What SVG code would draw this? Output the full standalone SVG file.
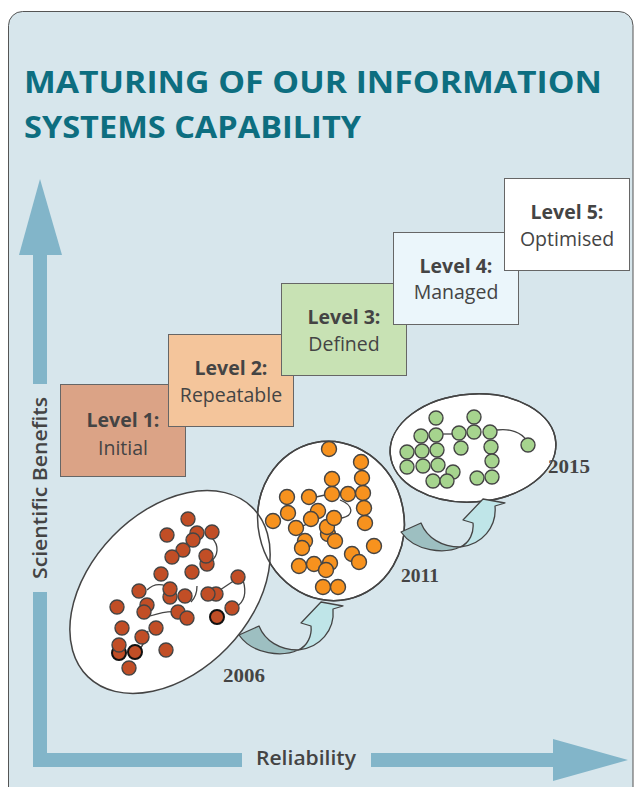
<svg xmlns="http://www.w3.org/2000/svg" width="635" height="787" viewBox="0 0 635 787">
<defs>
<style>
.lvl{stroke:#666;stroke-width:1}
.t1{font-family:"Open Sans","Liberation Sans",sans-serif;font-weight:700;font-size:19.5px;fill:#444;text-anchor:middle}
.t2{font-family:"Open Sans","Liberation Sans",sans-serif;font-weight:500;font-size:19.5px;fill:#444;text-anchor:middle}
.yr{font-family:"Liberation Serif",serif;font-weight:700;font-size:18px;fill:#444}
.ax{font-family:"Open Sans","Liberation Sans",sans-serif;font-weight:600;font-size:20px;fill:#444}
.ell{fill:#fff;stroke:#444;stroke-width:1.5}
.ells{fill:none;stroke:#444;stroke-width:1.5}
.r{fill:#c14e26;stroke:#444;stroke-width:1.4}
.rk{fill:#c14e26;stroke:#111;stroke-width:2}
.o{fill:#f7921e;stroke:#444;stroke-width:1.4}
.g{fill:#a6d48e;stroke:#444;stroke-width:1.4}
.ln{fill:none;stroke:#444;stroke-width:1.3}
.axis{fill:#82b5c9}
.dark{fill:#9dbfc1;stroke:#444;stroke-width:1.3;stroke-linejoin:round}
.light{fill:#bfe5e8;stroke:#444;stroke-width:1.3;stroke-linejoin:round}
</style>
<g id="curvedArrow">
<path class="light" d="M460,547 C470,543 474,532 473,523 L463,520 L483,499 L505,503 L495,506 C497,527 482,545 460,547 Z"/>
<path class="dark" d="M401,532 L421,523 C427,538 442,547 460,547 C445,554 415,552 401,532 Z"/>
</g>
</defs>

<g id="panel">
<rect x="8.5" y="11.5" width="624.5" height="790" rx="14" ry="14" fill="#d7e6ec" stroke="#555" stroke-width="1"/>
</g>

<g id="title" font-family="'Open Sans','Liberation Sans',sans-serif" font-weight="700" font-size="31" fill="#0d6e80">
<text x="24" y="93" textLength="578" lengthAdjust="spacingAndGlyphs">MATURING OF OUR INFORMATION</text>
<text x="24" y="138" textLength="337" lengthAdjust="spacingAndGlyphs">SYSTEMS CAPABILITY</text>
</g>

<g id="axes">
<polygon class="axis" points="40,179 62,255 19,255"/>
<rect class="axis" x="33" y="254" width="14" height="130"/>
<rect class="axis" x="33" y="592" width="14" height="175"/>
<rect class="axis" x="33" y="753" width="209" height="14"/>
<rect class="axis" x="371" y="753" width="184" height="14"/>
<polygon class="axis" points="553,739 628,760 553,781"/>
<text class="ax" transform="translate(47,579) rotate(-90)" x="0" y="0" textLength="182" lengthAdjust="spacingAndGlyphs">Scientific Benefits</text>
<text class="ax" x="256" y="765" textLength="100" lengthAdjust="spacingAndGlyphs">Reliability</text>
</g>

<g id="level1">
<rect class="lvl" x="60.5" y="384.5" width="125" height="92" fill="#dba386"/>
<text class="t1" x="123" y="427">Level 1:</text>
<text class="t2" x="123" y="455">Initial</text>
</g>
<g id="level2">
<rect class="lvl" x="168.5" y="334.5" width="125" height="92" fill="#f4c59b"/>
<text class="t1" x="231" y="375">Level 2:</text>
<text class="t2" x="231" y="402">Repeatable</text>
</g>
<g id="level3">
<rect class="lvl" x="281.5" y="283.5" width="125" height="92" fill="#c8e2b4"/>
<text class="t1" x="344" y="324">Level 3:</text>
<text class="t2" x="344" y="351">Defined</text>
</g>
<g id="level4">
<rect class="lvl" x="393.5" y="232.5" width="125" height="92" fill="#ebf6fb"/>
<text class="t1" x="456" y="273">Level 4:</text>
<text class="t2" x="456" y="299">Managed</text>
</g>
<g id="level5">
<rect class="lvl" x="504.5" y="178.5" width="125" height="92" fill="#ffffff"/>
<text class="t1" x="567" y="219">Level 5:</text>
<text class="t2" x="567" y="246">Optimised</text>
</g>

<g id="ellipse2015">
<ellipse class="ell" cx="473" cy="448" rx="83" ry="54" transform="rotate(-4 473 448)"/>
</g>
<g id="ellipse2011">
<ellipse class="ell" cx="331" cy="521" rx="73" ry="80" transform="rotate(-12 331 521)"/>
<ellipse class="ells" cx="473" cy="448" rx="83" ry="54" transform="rotate(-4 473 448)"/>
</g>
<g id="ellipse2006">
<ellipse class="ell" cx="170" cy="592" rx="118" ry="80" transform="rotate(-46 170 592)"/>
<ellipse class="ells" cx="331" cy="521" rx="73" ry="80" transform="rotate(-12 331 521)"/>
</g>

<g id="cluster2006">
<path class="ln" d="M212,538 C219,545 219,556 210,562"/>
<path class="ln" d="M147,590 C152,585 158,583 166,586"/>
<path class="ln" d="M150,616 C160,613 170,611 176,612"/>
<path class="ln" d="M191,602 C196,597 197,592 197,586"/>
<path class="ln" d="M220,590 L235,580"/>
<path class="ln" d="M243,580 C246,590 246,601 236,607"/>
<path class="ln" d="M148,631 C146,640 143,646 138,651"/>
<circle class="r" cx="188" cy="519" r="7"/>
<circle class="r" cx="167" cy="535" r="7"/>
<circle class="r" cx="197" cy="533" r="7"/>
<circle class="r" cx="212" cy="532" r="7"/>
<circle class="r" cx="193" cy="540" r="7"/>
<circle class="r" cx="183" cy="550" r="7"/>
<circle class="r" cx="172" cy="557" r="7"/>
<circle class="r" cx="207" cy="564" r="7"/>
<circle class="r" cx="206" cy="556" r="7"/>
<circle class="r" cx="192" cy="572" r="7"/>
<circle class="r" cx="161" cy="574" r="7"/>
<circle class="r" cx="238" cy="577" r="7"/>
<circle class="r" cx="139" cy="591" r="7"/>
<circle class="r" cx="170" cy="597" r="7"/>
<circle class="r" cx="170" cy="589" r="7"/>
<circle class="r" cx="185" cy="596" r="7"/>
<circle class="r" cx="216" cy="594" r="7"/>
<circle class="r" cx="208" cy="594" r="7"/>
<circle class="r" cx="117" cy="607" r="7"/>
<circle class="r" cx="147" cy="605" r="7"/>
<circle class="r" cx="144" cy="612" r="7"/>
<circle class="r" cx="178" cy="612" r="7"/>
<circle class="r" cx="187" cy="618" r="7"/>
<circle class="r" cx="232" cy="608" r="7"/>
<circle class="rk" cx="217" cy="617" r="7"/>
<circle class="r" cx="122" cy="628" r="7"/>
<circle class="r" cx="156" cy="628" r="7"/>
<circle class="r" cx="142" cy="637" r="7"/>
<circle class="rk" cx="119" cy="653" r="7"/>
<circle class="r" cx="119" cy="645" r="7"/>
<circle class="rk" cx="135" cy="652" r="7"/>
<circle class="r" cx="166" cy="650" r="7"/>
<circle class="r" cx="129" cy="668" r="7"/>
</g>

<g id="cluster2011">
<path class="ln" d="M316,497 L325,495"/>
<path class="ln" d="M340,500 C353,505 355,515 342,518"/>
<path class="ln" d="M303,526 C308,523 312,522 316,520"/>
<circle class="o" cx="329" cy="449" r="7.5"/>
<circle class="o" cx="361" cy="462" r="7.5"/>
<circle class="o" cx="332" cy="479" r="7.5"/>
<circle class="o" cx="362" cy="478" r="7.5"/>
<circle class="o" cx="287" cy="497" r="7.5"/>
<circle class="o" cx="309" cy="497" r="7.5"/>
<circle class="o" cx="332" cy="494" r="7.5"/>
<circle class="o" cx="348" cy="494" r="7.5"/>
<circle class="o" cx="363" cy="493" r="7.5"/>
<circle class="o" cx="364" cy="508" r="7.5"/>
<circle class="o" cx="288" cy="513" r="7.5"/>
<circle class="o" cx="318" cy="511" r="7.5"/>
<circle class="o" cx="273" cy="521" r="7.5"/>
<circle class="o" cx="311" cy="519" r="7.5"/>
<circle class="o" cx="365" cy="523" r="7.5"/>
<circle class="o" cx="296" cy="528" r="7.5"/>
<circle class="o" cx="328" cy="534" r="7.5"/>
<circle class="o" cx="327" cy="527" r="7.5"/>
<circle class="o" cx="334" cy="518" r="7.5"/>
<circle class="o" cx="305" cy="541" r="7.5"/>
<circle class="o" cx="302" cy="548" r="7.5"/>
<circle class="o" cx="335" cy="541" r="7.5"/>
<circle class="o" cx="374" cy="546" r="7.5"/>
<circle class="o" cx="352" cy="554" r="7.5"/>
<circle class="o" cx="359" cy="562" r="7.5"/>
<circle class="o" cx="299" cy="566" r="7.5"/>
<circle class="o" cx="330" cy="563" r="7.5"/>
<circle class="o" cx="314" cy="564" r="7.5"/>
<circle class="o" cx="326" cy="570" r="7.5"/>
<circle class="o" cx="323" cy="587" r="7.5"/>
<circle class="o" cx="338" cy="587" r="7.5"/>
</g>

<g id="cluster2015">
<path class="ln" d="M443,434 L452,434"/>
<path class="ln" d="M497,430 C510,428 522,433 526,440"/>
<circle class="g" cx="436" cy="418" r="7"/>
<circle class="g" cx="474" cy="417" r="7"/>
<circle class="g" cx="421" cy="436" r="7"/>
<circle class="g" cx="436" cy="435" r="7"/>
<circle class="g" cx="459" cy="433" r="7"/>
<circle class="g" cx="474" cy="432" r="7"/>
<circle class="g" cx="490" cy="432" r="7"/>
<circle class="g" cx="528" cy="445" r="7"/>
<circle class="g" cx="407" cy="452" r="7"/>
<circle class="g" cx="422" cy="451" r="7"/>
<circle class="g" cx="437" cy="450" r="7"/>
<circle class="g" cx="461" cy="448" r="7"/>
<circle class="g" cx="491" cy="447" r="7"/>
<circle class="g" cx="492" cy="461" r="7"/>
<circle class="g" cx="407" cy="467" r="7"/>
<circle class="g" cx="423" cy="466" r="7"/>
<circle class="g" cx="438" cy="465" r="7"/>
<circle class="g" cx="453" cy="472" r="7"/>
<circle class="g" cx="433" cy="481" r="7"/>
<circle class="g" cx="447" cy="481" r="7"/>
<circle class="g" cx="477" cy="478" r="7"/>
<circle class="g" cx="492" cy="477" r="7"/>
</g>

<g id="connectors">
<use href="#curvedArrow" transform="translate(-162,103)"/>
<use href="#curvedArrow"/>
</g>

<g id="years">
<text class="yr" x="223" y="682" textLength="42" lengthAdjust="spacingAndGlyphs">2006</text>
<text class="yr" x="401" y="582" textLength="38" lengthAdjust="spacingAndGlyphs">2011</text>
<text class="yr" x="548" y="473" textLength="42" lengthAdjust="spacingAndGlyphs">2015</text>
</g>
</svg>
